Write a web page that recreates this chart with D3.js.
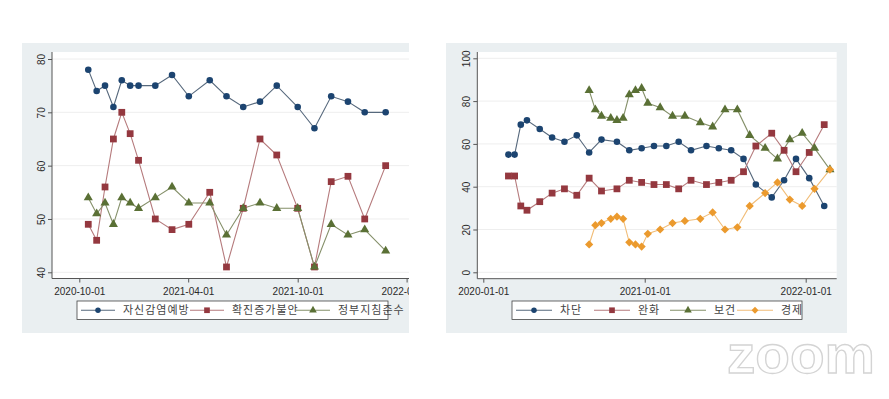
<!DOCTYPE html>
<html>
<head>
<meta charset="utf-8">
<script src="https://cdn.jsdelivr.net/npm/d3@7"></script>
<style>
  body { margin: 0; background: #fff; }
  svg { display: block; }
  .tick text { font-family: "Liberation Sans", Arial, sans-serif; font-size: 10px; fill: #2a2a2a; }
  .legend text { font-family: "Noto Sans CJK KR", sans-serif; font-size: 11px; fill: #444; letter-spacing: 1px; }
</style>
</head>
<body>
<div id="chart"></div>
<script>
// survey waves (used by left chart and by 보건 / 경제 on the right)
var surveyDates = ['2020-08-28','2020-09-11','2020-09-25','2020-10-16','2020-10-30','2020-11-13',
  '2020-11-27','2020-12-11','2020-12-25','2021-01-08','2021-02-05','2021-03-05','2021-04-02',
  '2021-05-07','2021-06-04','2021-07-02','2021-07-30','2021-08-27','2021-10-01','2021-10-29',
  '2021-11-26','2021-12-24','2022-01-21','2022-02-25'];
// left chart starts with the 4th wave
var leftDates = surveyDates.slice(3);

// waves for 차단 / 완화
var policyDates = ['2020-02-27','2020-03-12','2020-03-26','2020-04-09','2020-05-08','2020-06-05',
  '2020-07-03','2020-07-31','2020-08-28','2020-09-25','2020-10-30','2020-11-27','2020-12-25',
  '2021-01-22','2021-02-19','2021-03-19','2021-04-16','2021-05-21','2021-06-18','2021-07-16',
  '2021-08-13','2021-09-10','2021-10-16','2021-11-13','2021-12-10','2022-01-09','2022-02-12'];

// left chart series
var leftNames = ['자신감염예방', '확진증가불안', '정부지침준수'];
var selfPrevention = [78,74,75,71,76,75,75,75,77,73,76,73,71,72,75,71,67,73,72,70,70];
var spreadAnxiety  = [49,46,56,65,70,66,61,50,48,49,55,41,52,65,62,52,41,57,58,50,60];
var guideCompliance = [54,51,53,49,54,53,52,54,56,53,53,47,52,53,52,52,41,49,47,48,44];

// right chart series
var rightNames = ['차단', '완화', '보건', '경제'];
var blocking = [55,55,69,71,67,63,61,64,56,62,61,57,58,59,59,61,57,59,58,57,53,41,35,43,53,44,31];
var easing   = [45,45,31,29,33,37,39,36,44,38,39,43,42,41,41,39,43,41,42,43,47,59,65,57,47,56,69];
var health   = [85,76,73,72,71,72,83,85,86,79,77,73,73,70,68,76,76,64,58,53,62,65,58,48];
var economy  = [13,22,23,25,26,25,14,13,12,18,20,23,24,25,28,20,21,31,37,42,34,31,39,48];

// tick labels
var leftYTicks = [40, 50, 60, 70, 80];
var leftXTicks = ['2020-10-01', '2021-04-01', '2021-10-01', '2022-04-01'];
var rightYTicks = [0, 20, 40, 60, 80, 100];
var rightXTicks = ['2020-01-01', '2021-01-01', '2022-01-01'];

var parse = d3.timeParse('%Y-%m-%d');
var fmt = d3.timeFormat('%Y-%m-%d');

// Stata s2color look (diamond = square turned 45deg)
var styles = [
  {color: '#1c4470', line: '#56687c', symbol: d3.symbolCircle,   size: 34, rot: 0},
  {color: '#94383f', line: '#b57a7c', symbol: d3.symbolSquare,   size: 46, rot: 0},
  {color: '#5a7035', line: '#85906a', symbol: d3.symbolTriangle, size: 36, rot: 0},
  {color: '#eb9a2e', line: '#f1bd78', symbol: d3.symbolSquare,   size: 34, rot: 45}
];

var svg = d3.select('#chart').append('svg')
  .attr('width', 889).attr('height', 399);

function zip(dates, values){
  return values.map(function(v, i){ return {date: parse(dates[i]), value: v}; });
}

function drawPanel(cfg){
  var clipId = 'clip-' + cfg.id;
  svg.append('clipPath').attr('id', clipId)
    .append('rect')
    .attr('x', cfg.panel[0]).attr('y', cfg.panel[1])
    .attr('width', cfg.panel[2]).attr('height', cfg.panel[3]);

  var g = svg.append('g').attr('clip-path', 'url(#' + clipId + ')');

  //graph region
  g.append('rect')
    .attr('x', cfg.panel[0]).attr('y', cfg.panel[1])
    .attr('width', cfg.panel[2]).attr('height', cfg.panel[3])
    .attr('fill', '#eaeff1');

  //plot region
  var pr = cfg.plot;
  g.append('rect')
    .attr('x', pr[0]).attr('y', pr[1])
    .attr('width', pr[2] - pr[0]).attr('height', pr[3] - pr[1])
    .attr('fill', '#fff');

  var x = d3.scaleTime().domain(cfg.xDomain.map(parse)).range(cfg.xRange);
  var y = d3.scaleLinear().domain(cfg.yDomain).range(cfg.yRange);

  //gridlines
  g.selectAll('.grid')
    .data(cfg.yTicks)
    .enter().append('line')
    .attr('x1', pr[0]).attr('x2', pr[2])
    .attr('y1', function(d){ return y(d); })
    .attr('y2', function(d){ return y(d); })
    .attr('stroke', '#eeeeee');

  //axes
  var yAxis = g.append('g')
    .attr('transform', 'translate(' + pr[0] + ',0)')
    .call(d3.axisLeft(y).tickValues(cfg.yTicks).tickSize(4).tickSizeOuter(0));
  yAxis.select('.domain').remove();
  yAxis.selectAll('.tick line').attr('stroke', '#555');
  yAxis.selectAll('.tick text')
    .attr('transform', 'rotate(-90)')
    .attr('x', 0).attr('y', -7).attr('dy', 0)
    .attr('text-anchor', 'middle');

  var xAxis = g.append('g')
    .attr('transform', 'translate(0,' + pr[3] + ')')
    .call(d3.axisBottom(x)
      .tickValues(cfg.xTicks.map(parse))
      .tickSize(4).tickSizeOuter(0).tickPadding(5)
      .tickFormat(fmt));
  xAxis.select('.domain').remove();
  xAxis.selectAll('.tick line').attr('stroke', '#555');

  g.append('line')
    .attr('x1', pr[0]).attr('x2', pr[0])
    .attr('y1', pr[1]).attr('y2', pr[3])
    .attr('stroke', '#555');
  g.append('line')
    .attr('x1', pr[0]).attr('x2', pr[2])
    .attr('y1', pr[3]).attr('y2', pr[3])
    .attr('stroke', '#555');

  //series lines then markers
  var line = d3.line()
    .x(function(d){ return x(d.date); })
    .y(function(d){ return y(d.value); });

  cfg.series.forEach(function(s, i){
    var st = styles[i];
    g.append('path')
      .datum(s)
      .attr('fill', 'none')
      .attr('stroke', st.line)
      .attr('stroke-width', 1.1)
      .attr('d', line);
  });
  cfg.series.forEach(function(s, i){
    var st = styles[i];
    g.selectAll('.m' + i)
      .data(s)
      .enter().append('path')
      .attr('transform', function(d){
        return 'translate(' + x(d.date) + ',' + y(d.value) + ') rotate(' + st.rot + ')';
      })
      .attr('d', d3.symbol().type(st.symbol).size(st.size))
      .attr('fill', st.color);
  });

  //legend
  var lg = g.append('g').attr('class', 'legend');
  var lb = cfg.legendBox;
  lg.append('rect')
    .attr('x', lb[0]).attr('y', lb[1])
    .attr('width', lb[2]).attr('height', lb[3])
    .attr('fill', '#fff')
    .attr('stroke', '#444').attr('stroke-width', 0.8);
  var cy = lb[1] + lb[3] / 2;
  cfg.names.forEach(function(name, i){
    var st = styles[i];
    var x0 = cfg.legendX[i];
    lg.append('line')
      .attr('x1', x0).attr('x2', x0 + cfg.keyWidth)
      .attr('y1', cy).attr('y2', cy)
      .attr('stroke', st.line).attr('stroke-width', 1.1);
    lg.append('path')
      .attr('transform', 'translate(' + (x0 + cfg.keyWidth / 2) + ',' + cy + ') rotate(' + st.rot + ')')
      .attr('d', d3.symbol().type(st.symbol).size(st.size * 0.7))
      .attr('fill', st.color);
    lg.append('text')
      .attr('x', x0 + cfg.keyWidth + 8)
      .attr('y', cy + 4)
      .text(name);
  });
}

drawPanel({
  id: 'left',
  panel: [22, 43, 387, 290],
  plot: [52, 52, 420, 278.5],
  xDomain: ['2020-10-01', '2021-10-01'],
  xRange: [79.3, 297.7],
  yDomain: [40, 80],
  yRange: [272.3, 59],
  yTicks: leftYTicks,
  xTicks: leftXTicks,
  series: [zip(leftDates, selfPrevention), zip(leftDates, spreadAnxiety), zip(leftDates, guideCompliance)],
  names: leftNames,
  legendBox: [77, 301, 311, 18.5],
  legendX: [81, 190, 296],
  keyWidth: 34
});

drawPanel({
  id: 'right',
  panel: [446, 43, 401, 290],
  plot: [477.3, 52, 836.7, 278.7],
  xDomain: ['2020-01-01', '2022-01-01'],
  xRange: [483.3, 805.7],
  yDomain: [0, 100],
  yRange: [272.3, 58.3],
  yTicks: rightYTicks,
  xTicks: rightXTicks,
  series: [
    zip(policyDates, blocking), zip(policyDates, easing),
    zip(surveyDates, health), zip(surveyDates, economy)
  ],
  names: rightNames,
  legendBox: [512, 301, 290, 18.5],
  legendX: [516, 594, 670, 737],
  keyWidth: 36
});

//zoom watermark
svg.append('text')
  .attr('x', 727).attr('y', 373)
  .attr('textLength', 148)
  .attr('lengthAdjust', 'spacingAndGlyphs')
  .style('font-family', '"Liberation Sans", Arial, sans-serif')
  .style('font-size', '54px')
  .style('font-weight', 'bold')
  .attr('fill', '#fff')
  .attr('stroke', '#d4d4d4')
  .attr('stroke-width', 1.3)
  .text('zoom');
</script>
</body>
</html>
